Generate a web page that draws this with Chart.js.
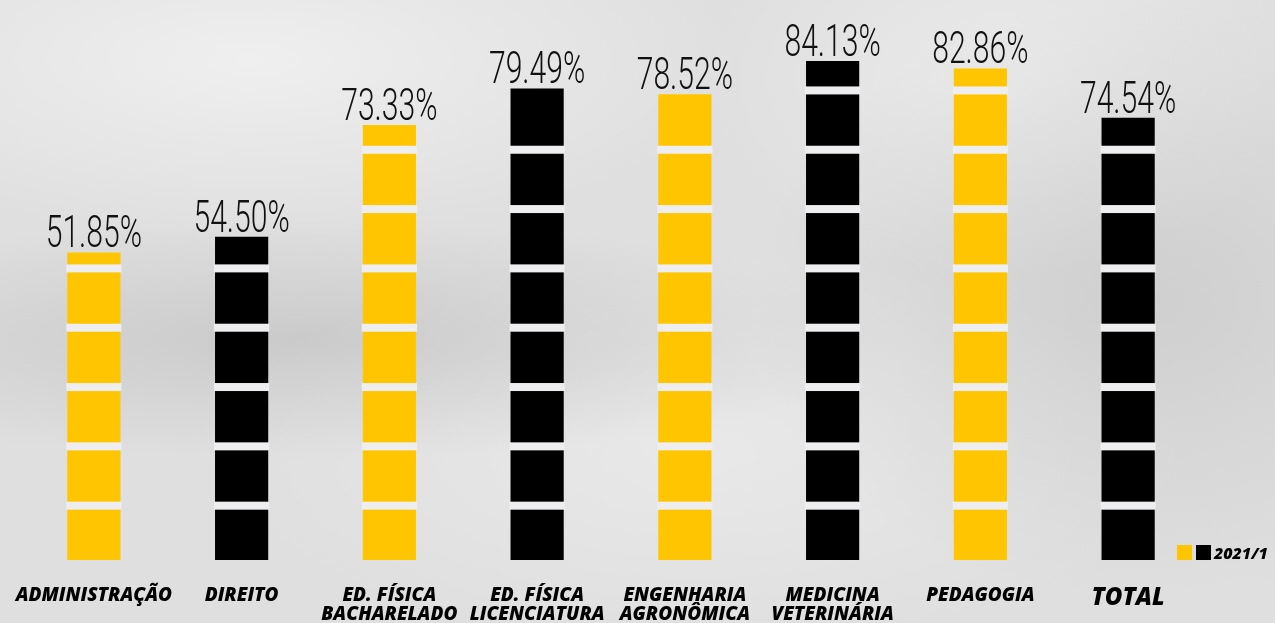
<!DOCTYPE html>
<html>
<head>
<meta charset="utf-8">
<script src="https://cdn.jsdelivr.net/npm/chart.js@4.4.1/dist/chart.umd.min.js"></script>
<style>
  html, body { margin: 0; padding: 0; }
  body {
    width: 1275px; height: 623px; overflow: hidden;
    background-color: #dfdfdf;
    background-image:
      radial-gradient(ellipse 500px 180px at 250px 60px, rgba(255,255,255,0.5), rgba(255,255,255,0)),
      radial-gradient(ellipse 600px 120px at 300px 340px, rgba(140,140,140,0.25), rgba(140,140,140,0)),
      radial-gradient(ellipse 400px 300px at 1150px 300px, rgba(150,150,150,0.22), rgba(150,150,150,0)),
      radial-gradient(ellipse 500px 200px at 700px 450px, rgba(255,255,255,0.3), rgba(255,255,255,0)),
      radial-gradient(ellipse 300px 200px at 1000px 80px, rgba(255,255,255,0.35), rgba(255,255,255,0));
  }
  #wrap { position: relative; width: 1275px; height: 623px; }
</style>
</head>
<body>
<div id="wrap"><canvas id="grafico"></canvas></div>
<script>
const cursos = [
  'ADMINISTRAÇÃO', 'DIREITO', ['ED. FÍSICA', 'BACHARELADO'], ['ED. FÍSICA', 'LICENCIATURA'],
  ['ENGENHARIA', 'AGRONÔMICA'], ['MEDICINA', 'VETERINÁRIA'], 'PEDAGOGIA', 'TOTAL'
]
const percentuais = [51.85, 54.50, 73.33, 79.49, 78.52, 84.13, 82.86, 74.54]
const rotulos = ['51.85%', '54.50%', '73.33%', '79.49%', '78.52%', '84.13%', '82.86%', '74.54%']
const cores = ['#ffc600', '#000000', '#ffc600', '#000000', '#ffc600', '#000000', '#ffc600', '#000000']
const legenda = '2021/1'

// faixas brancas a cada 10% + valores em cima
const segmentos = {
  id: 'segmentos',
  afterDatasetsDraw(chart) {
    const { ctx } = chart
    const y = chart.scales.y
    const meta = chart.getDatasetMeta(0)
    meta.data.forEach((bar, i) => {
      const w = bar.width
      const left = bar.x - w / 2
      ctx.save()
      ctx.fillStyle = '#eeeef1'
      for (let v = 10; v < percentuais[i]; v += 10) {
        const py = y.getPixelForValue(v)
        ctx.fillRect(left - 1, py + 1, w + 2, 8)
      }
      ctx.restore()

      // rótulo
      ctx.save()
      ctx.fillStyle = '#111'
      ctx.font = '300 45px Roboto'
      ctx.textAlign = 'center'
      ctx.textBaseline = 'alphabetic'
      ctx.translate(bar.x, bar.y - 5)
      ctx.scale(0.67, 1)
      ctx.fillText(rotulos[i], 0, 0)
      ctx.restore()
    })

    // legenda
    const ca = chart.chartArea
    ctx.save()
    ctx.fillStyle = '#ffc600'
    ctx.fillRect(1177, ca.bottom - 15, 15, 15)
    ctx.fillStyle = '#000'
    ctx.fillRect(1196, ca.bottom - 15, 15, 15)
    ctx.font = 'italic 800 16px "Open Sans"'
    ctx.textBaseline = 'alphabetic'
    ctx.fillText(legenda, 1214, ca.bottom - 1)
    ctx.restore()
  }
}

const ctx = document.getElementById('grafico').getContext('2d')

const grafico = new Chart(ctx, {
  type: 'bar',
  data: {
    labels: cursos,
    datasets: [{
      label: legenda,
      data: percentuais,
      backgroundColor: cores,
      borderWidth: 0,
      barPercentage: 0.36,
      categoryPercentage: 1
    }]
  },
  options: {
    responsive: true,
    maintainAspectRatio: false,
    animation: false,
    layout: { padding: { left: 20, right: 73, top: 0, bottom: 0 } },
    scales: {
      y: {
        display: false,
        min: 0,
        max: 94.4
      },
      x: {
        grid: { display: false },
        border: { display: false },
        afterFit(scale) {
          scale.height = 63
          scale.paddingLeft = 0
          scale.paddingRight = 0
        },
        ticks: {
          autoSkip: false,
          maxRotation: 0,
          minRotation: 0,
          padding: 18,
          color: '#000',
          font: (c) => c.index === 7
            ? { family: '"Open Sans"', size: 24, style: 'italic', weight: 800, lineHeight: 1.0 }
            : { family: '"Open Sans"', size: 19, style: 'italic', weight: 800, lineHeight: 1.0 }
        }
      }
    },
    plugins: {
      legend: { display: false },
      tooltip: { enabled: false }
    }
  },
  plugins: [segmentos]
})
</script>
</body>
</html>
